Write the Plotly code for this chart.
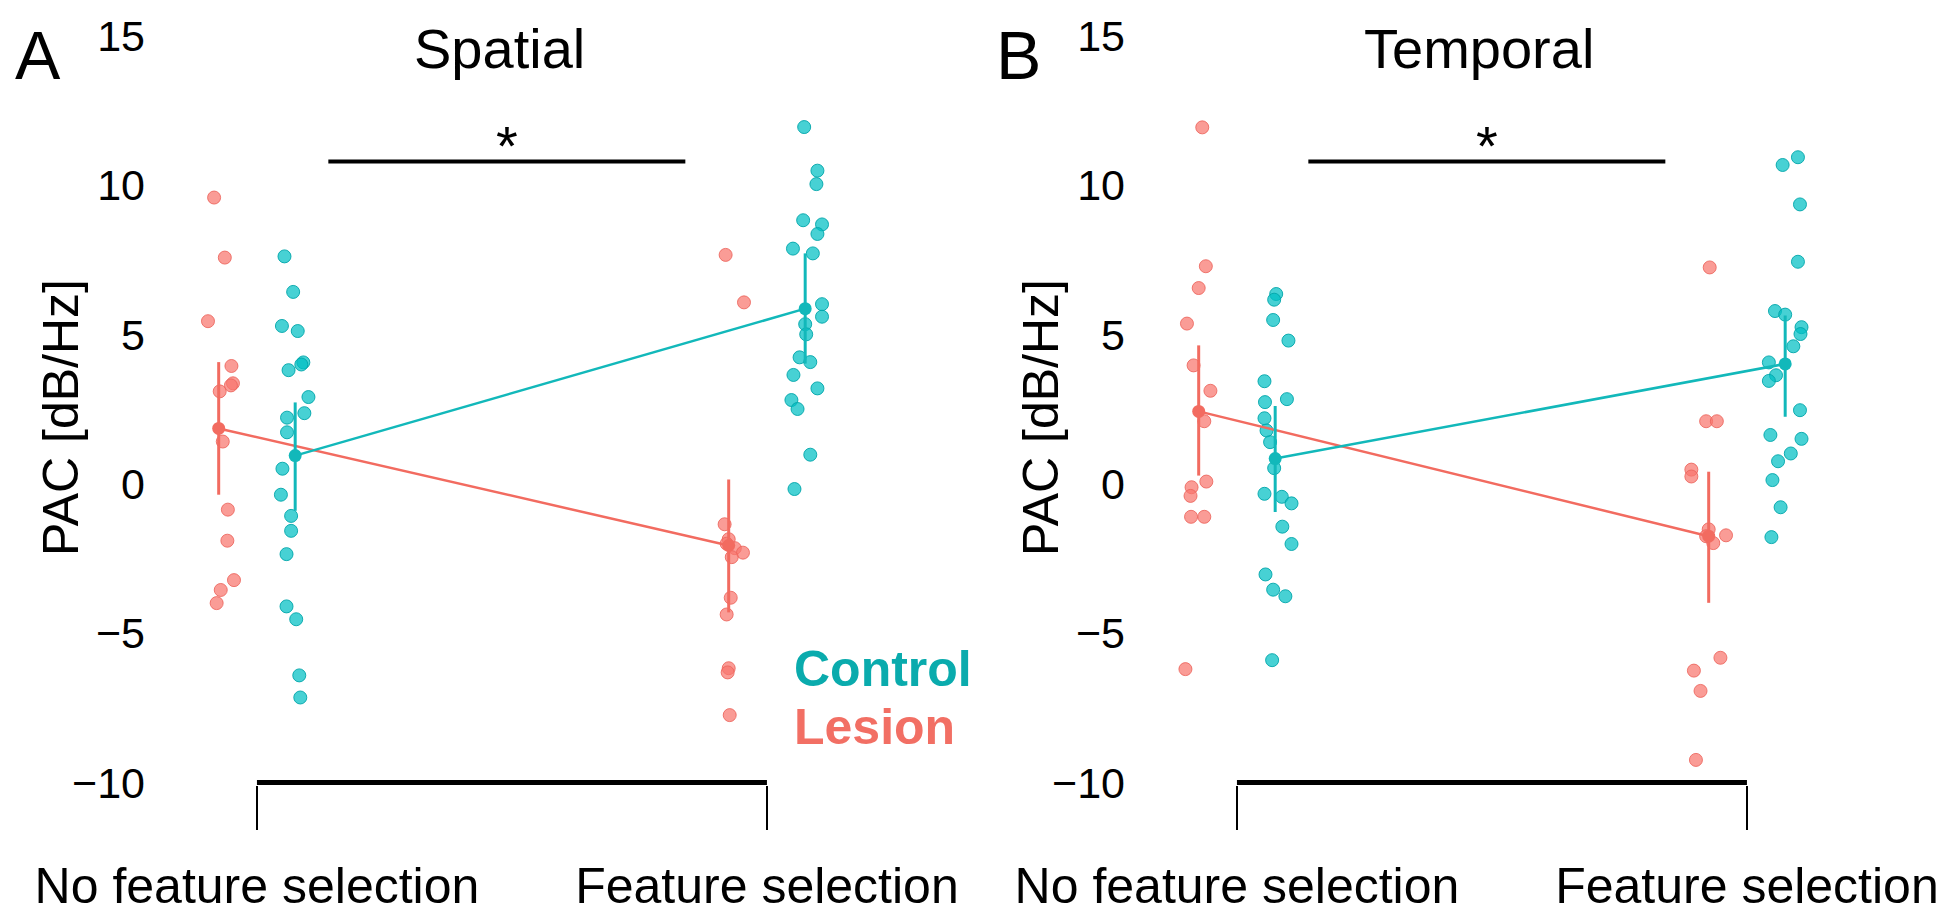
import plotly.graph_objects as go

# ---------------- data ----------------
categories = ["No feature selection", "Feature selection"]
panel_titles = ["Spatial", "Temporal"]
panel_letters = ["A", "B"]
y_ticks = [-10, -5, 0, 5, 10, 15]

# Spatial panel: individual values and horizontal jitter (data units)
spatial_lesion_nfs = [9.59, 7.58, 5.45, 3.95, 3.37, 3.30, 3.10, 1.42, -0.86, -1.90, -3.22, -3.55, -3.99]
spatial_lesion_nfs_jit = [-0.009, 0.012, -0.021, 0.025, 0.028, 0.024, 0.002, 0.008, 0.018, 0.017, 0.030, 0.004, -0.004]
spatial_lesion_fs = [7.67, 6.08, -1.35, -1.85, -2.00, -2.15, -2.30, -2.45, -3.81, -4.37, -6.17, -6.31, -7.74]
spatial_lesion_fs_jit = [-0.006, 0.030, -0.008, 0.0, -0.004, 0.012, 0.028, 0.006, 0.004, -0.004, 0.0, -0.002, 0.002]
spatial_control_nfs = [7.62, 6.43, 5.29, 5.12, 4.07, 4.00, 3.81, 2.91, 2.37, 2.22, 1.73, 0.51, -0.36, -1.07,
                       -1.57, -2.35, -4.10, -4.53, -6.41, -7.15]
spatial_control_nfs_jit = [-0.021, -0.004, -0.026, 0.005, 0.016, 0.012, -0.013, 0.026, 0.018, -0.016, -0.016,
                           -0.025, -0.028, -0.008, -0.008, -0.017, -0.017, 0.002, 0.008, 0.010]
spatial_control_fs = [11.95, 10.49, 10.04, 8.83, 8.69, 8.37, 7.88, 7.72, 6.02, 5.60, 5.35, 5.01, 4.24, 4.08,
                      3.65, 3.20, 2.81, 2.51, 0.98, -0.17]
spatial_control_fs_jit = [-0.002, 0.024, 0.022, -0.004, 0.033, 0.024, -0.024, 0.015, 0.033, 0.033, 0.0, 0.002,
                          -0.011, 0.010, -0.023, 0.024, -0.027, -0.015, 0.010, -0.021]

# Temporal panel
temporal_lesion_nfs = [11.94, 7.29, 6.56, 5.37, 3.97, 3.12, 2.10, 0.08, -0.11, -0.40, -1.10, -1.10, -6.20]
temporal_lesion_nfs_jit = [0.007, 0.014, 0.0, -0.023, -0.010, 0.023, 0.011, 0.015, -0.014, -0.016, -0.015, 0.011, -0.026]
temporal_lesion_fs = [7.25, 2.10, 2.10, 0.48, 0.25, -1.52, -1.72, -1.98, -1.75, -5.82, -6.25, -6.93, -9.24]
temporal_lesion_fs_jit = [0.002, -0.005, 0.016, -0.034, -0.034, 0.0, 0.034, 0.009, -0.005, 0.023, -0.029, -0.016, -0.025]
temporal_control_nfs = [6.36, 6.17, 5.49, 4.80, 3.44, 2.84, 2.74, 2.20, 1.79, 1.40, 0.53, -0.33, -0.43, -0.65,
                        -1.43, -2.01, -3.03, -3.54, -3.76, -5.90]
temporal_control_nfs_jit = [0.002, -0.002, -0.004, 0.026, -0.021, 0.023, -0.020, -0.021, -0.017, -0.010, -0.002,
                            -0.021, 0.013, 0.032, 0.014, 0.032, -0.019, -0.004, 0.020, -0.006]
temporal_control_fs = [10.94, 10.68, 9.36, 7.44, 5.79, 5.67, 5.25, 5.02, 4.61, 4.07, 3.64, 3.45, 2.47, 1.64,
                       1.51, 1.02, 0.76, 0.13, -0.78, -1.78]
temporal_control_fs_jit = [0.025, -0.005, 0.029, 0.025, -0.020, 0.0, 0.032, 0.030, 0.016, -0.032, -0.018, -0.032,
                           0.029, -0.029, 0.032, 0.011, -0.014, -0.025, -0.009, -0.027]

# Group means and interval bounds [No feature selection, Feature selection]
spatial_lesion_mean = [1.86, -2.06]
spatial_lesion_low = [-0.36, -4.30]
spatial_lesion_high = [4.08, 0.15]
spatial_control_mean = [0.95, 5.87]
spatial_control_low = [-0.90, 4.03]
spatial_control_high = [2.73, 7.72]

temporal_lesion_mean = [2.43, -1.75]
temporal_lesion_low = [0.28, -3.98]
temporal_lesion_high = [4.64, 0.41]
temporal_control_mean = [0.85, 4.02]
temporal_control_low = [-0.94, 2.25]
temporal_control_high = [2.61, 5.64]

sig_bar_x = [1.14, 1.84]
sig_bar_y = 10.8
bracket_y = -10

# ---------------- styling ----------------
FONT = "Liberation Sans, Arial, Helvetica, sans-serif"
LES_PT = "rgba(248,118,109,0.72)"
LES_PT_LINE = "rgba(236,100,92,0.85)"
CON_PT = "rgba(0,191,196,0.72)"
CON_PT_LINE = "rgba(0,165,170,0.9)"
LES_MEAN = "#F26B60"
CON_MEAN = "#12B8BA"
DODGE = 0.075
W, H = 1950, 917
M_T, M_B = 22, 140
PLOT_H = H - M_T - M_B
X_RANGE = [0.806, 2.306]
Y_RANGE = [-10.08, 15.2]
DOMAINS = [[150 / W, 915 / W], [1130 / W, 1895 / W]]


def py(px):
    """pixel row -> paper y"""
    return (H - M_B - px) / PLOT_H


panels = [
    dict(lesion=[spatial_lesion_nfs, spatial_lesion_fs], lesion_jit=[spatial_lesion_nfs_jit, spatial_lesion_fs_jit],
         control=[spatial_control_nfs, spatial_control_fs], control_jit=[spatial_control_nfs_jit, spatial_control_fs_jit],
         lm=spatial_lesion_mean, ll=spatial_lesion_low, lh=spatial_lesion_high,
         cm=spatial_control_mean, cl=spatial_control_low, ch=spatial_control_high),
    dict(lesion=[temporal_lesion_nfs, temporal_lesion_fs], lesion_jit=[temporal_lesion_nfs_jit, temporal_lesion_fs_jit],
         control=[temporal_control_nfs, temporal_control_fs], control_jit=[temporal_control_nfs_jit, temporal_control_fs_jit],
         lm=temporal_lesion_mean, ll=temporal_lesion_low, lh=temporal_lesion_high,
         cm=temporal_control_mean, cl=temporal_control_low, ch=temporal_control_high),
]

fig = go.Figure()
shapes = []
annotations = []

for p, pd_ in enumerate(panels):
    xa = "x" if p == 0 else "x2"
    ya = "y" if p == 0 else "y2"
    for ci in range(2):
        xs_l = [ci + 1 - DODGE + j for j in pd_["lesion_jit"][ci]]
        fig.add_trace(go.Scatter(x=xs_l, y=pd_["lesion"][ci], mode="markers", xaxis=xa, yaxis=ya,
                                 marker=dict(size=13, color=LES_PT, line=dict(width=1, color=LES_PT_LINE)),
                                 showlegend=False, hoverinfo="y"))
        xs_c = [ci + 1 + DODGE + j for j in pd_["control_jit"][ci]]
        fig.add_trace(go.Scatter(x=xs_c, y=pd_["control"][ci], mode="markers", xaxis=xa, yaxis=ya,
                                 marker=dict(size=13, color=CON_PT, line=dict(width=1, color=CON_PT_LINE)),
                                 showlegend=False, hoverinfo="y"))
    for key, color, sign in [("l", LES_MEAN, -1), ("c", CON_MEAN, 1)]:
        m = pd_[key + "m"]
        lo = pd_[key + "l"]
        hi = pd_[key + "h"]
        fig.add_trace(go.Scatter(
            x=[1 + sign * DODGE, 2 + sign * DODGE], y=m, mode="lines+markers", xaxis=xa, yaxis=ya,
            line=dict(color=color, width=2.5),
            marker=dict(size=13, color=color),
            error_y=dict(type="data", symmetric=False,
                         array=[h - v for h, v in zip(hi, m)],
                         arrayminus=[v - l for v, l in zip(m, lo)],
                         color=color, thickness=3, width=0),
            showlegend=False, hoverinfo="y"))
    shapes.append(dict(type="line", xref=xa, yref=ya, x0=1, x1=2, y0=bracket_y, y1=bracket_y,
                       line=dict(color="black", width=5)))
    shapes.append(dict(type="line", xref=xa, yref=ya, x0=sig_bar_x[0], x1=sig_bar_x[1], y0=sig_bar_y, y1=sig_bar_y,
                       line=dict(color="black", width=4)))
    annotations.append(dict(text="*", xref=xa, yref=ya, x=(sig_bar_x[0] + sig_bar_x[1]) / 2, y=sig_bar_y,
                            yanchor="bottom", xanchor="center", showarrow=False, yshift=-18,
                            font=dict(size=56, color="black", family=FONT)))
    x0px = DOMAINS[p][0] * W
    annotations.append(dict(text=panel_titles[p], xref="paper", yref="paper",
                            x=(x0px + 341) / W, y=py(40), yanchor="middle", xanchor="center",
                            showarrow=False, font=dict(size=56, color="black", family=FONT)))
    annotations.append(dict(text=panel_letters[p], xref="paper", yref="paper",
                            x=(x0px - 120) / W, y=py(47), yanchor="middle", xanchor="center",
                            showarrow=False, font=dict(size=68, color="black", family=FONT)))
    annotations.append(dict(text="PAC [dB/Hz]", xref="paper", yref="paper", textangle=-90,
                            x=(x0px - 97) / W, y=py(410), yanchor="middle", xanchor="center",
                            showarrow=False, font=dict(size=50, color="black", family=FONT)))

annotations.append(dict(text="<b>Control</b>", xref="x", yref="y", x=2.049, y=-6.2, xanchor="left", yanchor="middle",
                        showarrow=False, font=dict(size=50, color="#0AABAD", family=FONT)))
annotations.append(dict(text="<b>Lesion</b>", xref="x", yref="y", x=2.049, y=-8.15, xanchor="left", yanchor="middle",
                        showarrow=False, font=dict(size=50, color="#F26F64", family=FONT)))

axis_common_x = dict(range=X_RANGE, tickvals=[1, 2], ticktext=categories, showgrid=False, zeroline=False,
                     showline=False, ticks="outside", ticklen=44, tickwidth=2, tickcolor="black",
                     tickfont=dict(size=50, color="black", family=FONT), ticklabelstandoff=13,
                     automargin=False, fixedrange=True)
axis_common_y = dict(range=Y_RANGE, tickvals=y_ticks, showgrid=False, zeroline=False, showline=False,
                     ticks="", tickfont=dict(size=43, color="black", family=FONT), ticklabelstandoff=12,
                     automargin=False, fixedrange=True)

fig.update_layout(
    template="none",
    width=W, height=H,
    margin=dict(l=0, r=0, t=M_T, b=M_B, autoexpand=False),
    paper_bgcolor="white", plot_bgcolor="white",
    showlegend=False,
    xaxis=dict(domain=DOMAINS[0], anchor="y", **axis_common_x),
    xaxis2=dict(domain=DOMAINS[1], anchor="y2", **axis_common_x),
    yaxis=dict(domain=[0, 1], anchor="x", **axis_common_y),
    yaxis2=dict(domain=[0, 1], anchor="x2", **axis_common_y),
    shapes=shapes,
    annotations=annotations,
    font=dict(family=FONT),
)

fig.write_html("out.html")
